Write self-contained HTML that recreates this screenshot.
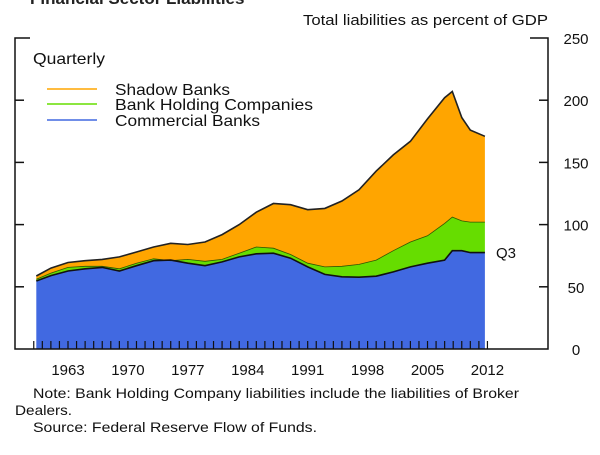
<!DOCTYPE html>
<html><head><meta charset="utf-8"><style>
body{margin:0;background:#fff;}
svg{display:block;font-family:"Liberation Sans",sans-serif;}
</style></head><body>
<svg id="chart" width="600" height="455" viewBox="0 0 600 455" xmlns="http://www.w3.org/2000/svg">
<text x="30" y="4" font-size="17" font-weight="bold" fill="#222">Financial Sector Liabilities</text>
<text x="303" y="25" font-size="15" textLength="245" lengthAdjust="spacingAndGlyphs" fill="#111">Total liabilities as percent of GDP</text>
<g id="areas"></g>
<g id="axes"></g>
<text x="33" y="64" font-size="16" textLength="72" lengthAdjust="spacingAndGlyphs" fill="#111">Quarterly</text>
<g font-size="16" fill="#111">
<line x1="47" y1="89" x2="97" y2="89" stroke="#FFA500" stroke-width="1.5"/>
<text x="115" y="95" textLength="115" lengthAdjust="spacingAndGlyphs">Shadow Banks</text>
<line x1="47" y1="104" x2="97" y2="104" stroke="#66DD00" stroke-width="1.5"/>
<text x="115" y="110" textLength="198" lengthAdjust="spacingAndGlyphs">Bank Holding Companies</text>
<line x1="47" y1="120" x2="97" y2="120" stroke="#4169E1" stroke-width="1.5"/>
<text x="115" y="126" textLength="145" lengthAdjust="spacingAndGlyphs">Commercial Banks</text>
</g>
<text x="496" y="258" font-size="15" fill="#111">Q3</text>
<g font-size="14" fill="#111">
<text x="33" y="398" textLength="486" lengthAdjust="spacingAndGlyphs">Note: Bank Holding Company liabilities include the liabilities of Broker</text>
<text x="15" y="415" textLength="57" lengthAdjust="spacingAndGlyphs">Dealers.</text>
<text x="33" y="432" textLength="284" lengthAdjust="spacingAndGlyphs">Source: Federal Reserve Flow of Funds.</text>
</g>
</svg>
<script>
const years=[1959.3,1961,1963,1965,1967,1969,1971,1973,1975,1977,1979,1981,1983,1985,1987,1989,1991,1993,1995,1997,1999,2001,2003,2005,2007,2007.9,2009,2010,2011.7];
const commercialBanks=[54.7,59,62.7,64.5,65.6,62.7,67,71,71.5,69,67,70,74,76.5,77,73,66,60,58,57.7,58.5,62,66,69,71.5,79,79,77.5,77.5];
const bhcCumulative=[56,61,65.6,66.5,66.5,64.5,69,72.5,71,72,70.5,72,77,82,81,76,69,66,66.5,68,71.5,79,86,91,101,106,103,102,102];
const totalLiabilities=[58.7,65,69.5,71,72,74,78,82,85,84,86,92,100,110,117,116,112,113,119,128,143,156,167,185,202,207,186,176,171];
const yTicks=[0,50,100,150,200,250];
const xLabels=[1963,1970,1977,1984,1991,1998,2005,2012];
const tickStart=1959, tickEnd=2012;

const NS="http://www.w3.org/2000/svg";
const X0=15,X1=548,Y0=349,Y1=38;
function x(yr){return 68+(yr-1963)*8.56;}
function y(v){return Y0-(v/250)*(Y0-Y1);}
function mk(t,a,p){const e=document.createElementNS(NS,t);for(const k in a)e.setAttribute(k,a[k]);p.appendChild(e);return e;}
const areas=document.getElementById('areas'),axes=document.getElementById('axes');
function areaPath(top,bot){
  let d='';
  for(let i=0;i<years.length;i++)d+=(i?'L':'M')+x(years[i]).toFixed(1)+','+y(top[i]).toFixed(1);
  for(let i=years.length-1;i>=0;i--)d+='L'+x(years[i]).toFixed(1)+','+(bot?y(bot[i]):Y0).toFixed(1);
  return d+'Z';
}
function linePath(s){let d='';for(let i=0;i<years.length;i++)d+=(i?'L':'M')+x(years[i]).toFixed(1)+','+y(s[i]).toFixed(1);return d;}
let p=mk('path',{d:areaPath(totalLiabilities,bhcCumulative),fill:'#FFA500'},areas);


p=mk('path',{d:areaPath(bhcCumulative,commercialBanks),fill:'#66DD00'},areas);


p=mk('path',{d:areaPath(commercialBanks,null),fill:'#4169E1'},areas);


p=mk('path',{d:linePath(totalLiabilities),fill:'none',stroke:'#222','stroke-width':1.6},areas);


p=mk('path',{d:linePath(bhcCumulative),fill:'none',stroke:'#335500','stroke-width':0.8},areas);


p=mk('path',{d:linePath(commercialBanks),fill:'none',stroke:'#111','stroke-width':1.6},areas);



p=mk('path',{d:`M${X0+15},${Y1}H${X0}V${Y0}H${X1}V${Y1}H${X1-18}`,fill:'none',stroke:'#111','stroke-width':1.5},axes);


yTicks.forEach(v=>{
  if(v>0&&v<250){
    let t=mk('line',{x1:X0,x2:X0+9,y1:y(v),y2:y(v),stroke:'#111','stroke-width':1.5},axes);
    
    
    t=mk('line',{x1:X1-9,x2:X1,y1:y(v),y2:y(v),stroke:'#111','stroke-width':1.5},axes);
    
    
  }
  const l=mk('text',{x:576,y:y(v)+6,'font-size':15,'text-anchor':'middle',fill:'#111'},axes);
  l.textContent=v;
  
  
});
for(let yr=tickStart;yr<=tickEnd;yr++){
  const t=mk('line',{x1:x(yr),x2:x(yr),y1:Y0,y2:Y0-8,stroke:'#111','stroke-width':1.2},axes);
  
  
}
xLabels.forEach(yr=>{
  const l=mk('text',{x:x(yr),y:375,'font-size':15,'text-anchor':'middle',fill:'#111'},axes);
  l.textContent=yr;
  
  
});
</script>
</body></html>
